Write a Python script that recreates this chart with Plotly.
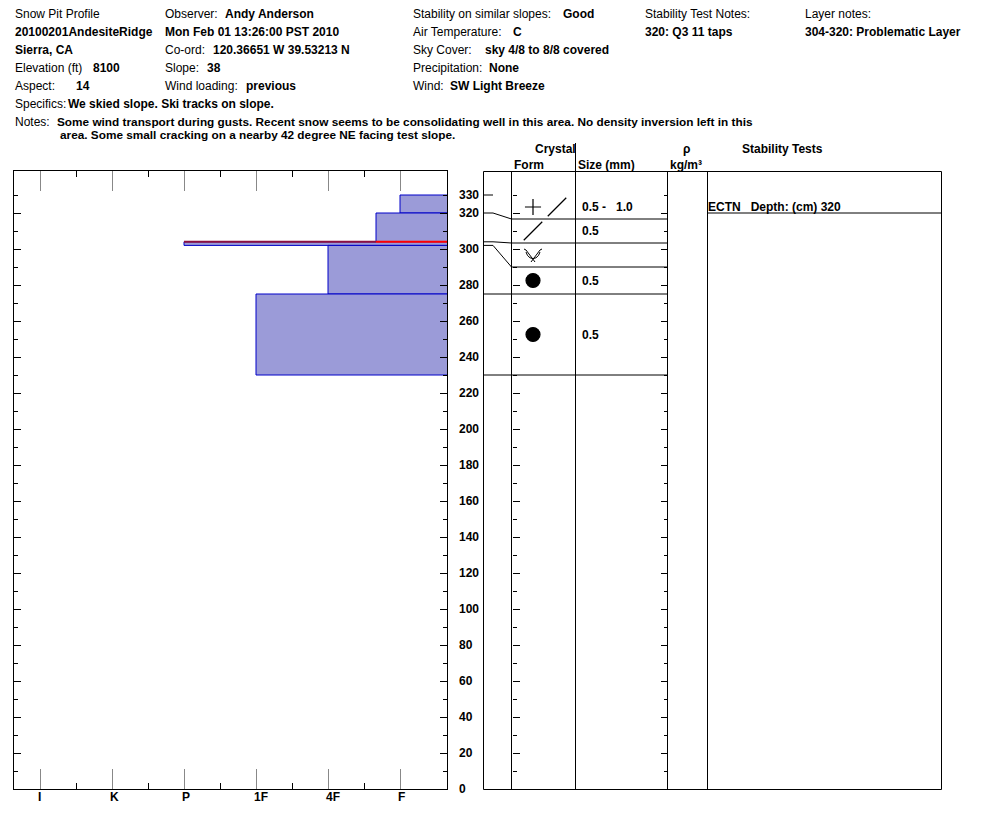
import plotly.graph_objects as go

# ---- pit header ----
header_labels = [
    # (x px, y px, text)
    (16, 14, "Snow Pit Profile"),
    (16, 68, "Elevation (ft)"),
    (16, 86, "Aspect:"),
    (166, 14, "Observer:"),
    (166, 50, "Co-ord:"),
    (166, 68, "Slope:"),
    (166, 86, "Wind loading:"),
    (414, 14, "Stability on similar slopes:"),
    (414, 32, "Air Temperature:"),
    (414, 50, "Sky Cover:"),
    (414, 68, "Precipitation:"),
    (414, 86, "Wind:"),
    (646, 14, "Stability Test Notes:"),
    (806, 14, "Layer notes:"),
    (16, 104, "Specifics:"),
    (16, 122, "Notes:"),
]
header_values = [
    (16, 32, "20100201AndesiteRidge"),
    (16, 50, "Sierra, CA"),
    (94, 68, "8100"),
    (77, 86, "14"),
    (226, 14, "Andy Anderson"),
    (166, 32, "Mon Feb 01 13:26:00 PST 2010"),
    (214, 50, "120.36651 W 39.53213 N"),
    (208, 68, "38"),
    (247, 86, "previous"),
    (564, 14, "Good"),
    (514, 32, "C"),
    (486, 50, "sky 4/8 to 8/8 covered"),
    (490, 68, "None"),
    (451, 86, "SW Light Breeze"),
    (646, 32, "320: Q3 11 taps"),
    (806, 32, "304-320: Problematic Layer"),
    (69, 104, "We skied slope. Ski tracks on slope."),
]
notes_lines = [
    (58, 122, "Some wind transport during gusts. Recent snow seems to be consolidating well in this area. No density inversion left in this"),
    (61, 135, "area. Some small cracking on a nearby 42 degree NE facing test slope."),
]

# ---- layers ----
hardness_names = ["F", "4F", "1F", "P", "K", "I"]
layer_top = [330, 320, 304, 302, 275]
layer_bottom = [320, 304, 302, 275, 230]
layer_hardness = ["F", "F+", "P", "4F", "1F"]
grain_form = [["PP", "DF"], ["DF"], ["SH"], ["RG"], ["RG"]]
grain_size = ["0.5 -   1.0", "0.5", "", "0.5", "0.5"]
problem_depth = 304

test_code = ["ECTN"]
test_depth = [320]

depth_ticks = list(range(0, 321, 20)) + [330]

W, H = 994, 826
PX_CM = 1.8            # pixels per cm on the depth axis
Y0 = 789               # pixel row of depth 0
TOP = 171
depth_max = (Y0 - TOP) / PX_CM
h_left = 1 + (400 - 14) / 72
h_right = 1 - (447 - 400) / 72


def X(p):
    return p / W


def Y(p):
    return 1 - p / H


def hard_val(s):
    v = hardness_names.index(s.rstrip("+-")) + 1
    if s.endswith("+"):
        v += 1 / 3
    elif s.endswith("-"):
        v -= 1 / 3
    return v


FONT = "Liberation Sans, Arial, sans-serif"
anns = []


def ann(x, y, text, bold=False, xanchor="left", xref="paper", yref="paper", size=12, xshift=0):
    anns.append(dict(
        x=x, y=y, xref=xref, yref=yref, text=f"<b>{text}</b>" if bold else text,
        showarrow=False, xanchor=xanchor, yanchor="middle", xshift=xshift,
        font=dict(family=FONT, size=size, color="black"), borderpad=0, borderwidth=0,
    ))


for x, y, t in header_labels:
    ann(X(x - 1), Y(y), t)
for x, y, t in header_values:
    ann(X(x - 1), Y(y), t, bold=True)
for x, y, t in notes_lines:
    ann(X(x - 1), Y(y), t, bold=True, size=11.8)

fig = go.Figure()

# hardness bars
hv = [hard_val(h) for h in layer_hardness]
fig.add_trace(go.Bar(
    orientation="h",
    y=[(a + b) / 2 for a, b in zip(layer_top, layer_bottom)],
    width=[a - b for a, b in zip(layer_top, layer_bottom)],
    x=hv, base=0,
    marker=dict(color="#9b9bd8", line=dict(color="#0000c8", width=1)),
    hoverinfo="skip", showlegend=False,
))

# problem layer line
i_p = layer_top.index(problem_depth)
fig.add_trace(go.Scatter(
    x=[hv[i_p], hv[i_p - 1]], y=[problem_depth] * 2, mode="lines",
    line=dict(color="#8c1040", width=2), hoverinfo="skip", showlegend=False))
fig.add_trace(go.Scatter(
    x=[hv[i_p - 1], 0], y=[problem_depth] * 2, mode="lines",
    line=dict(color="#ff0000", width=2), hoverinfo="skip", showlegend=False))

# keep the table's tick axes alive
for ya in ["y3", "y4"]:
    fig.add_trace(go.Scatter(x=[1], y=[-50], xaxis="x", yaxis=ya, mode="markers",
                             marker=dict(opacity=0), hoverinfo="skip", showlegend=False))

# hardness labels
for i, name in enumerate(hardness_names):
    ann(i + 1, Y(797), name, bold=True, xref="x", xshift=-2)

# depth labels
for d in depth_ticks:
    ann(X(459), d, str(d), bold=True, yref="y")

# ---- table ----
shapes = []


def line(x0, y0, x1, y1, yref="paper", color="black", width=1):
    shapes.append(dict(type="line", xref="paper", yref=yref, x0=X(x0), x1=X(x1),
                       y0=y0 if yref == "y" else Y(y0), y1=y1 if yref == "y" else Y(y1),
                       line=dict(color=color, width=width)))


shapes.append(dict(type="rect", xref="paper", yref="paper", x0=X(483.5), x1=X(941.5),
                   y0=Y(789.5), y1=Y(171.5), line=dict(color="black", width=1)))
for cx in [511.5, 667.5, 707.5]:
    line(cx, 171.5, cx, 789.5)
line(575.5, 143, 575.5, 789.5)

# displayed row boundaries (rows get a minimum height)
min_row = 24 / PX_CM
disp = [layer_top[0]]
for b in layer_bottom:
    disp.append(min(b, disp[-1] - min_row))
real = [layer_top[0]] + layer_bottom

line(483.5, real[0], 493, real[0], yref="y")
for r, d in zip(real[1:], disp[1:]):
    line(483.5, r, 493, r, yref="y")
    shapes.append(dict(type="line", xref="paper", yref="y", x0=X(493), x1=X(511.5),
                       y0=r, y1=d, line=dict(color="black", width=1)))
    line(511.5, d, 667.5, d, yref="y")

# crystal symbols
sym_style = {
    "PP": dict(symbol="cross-thin", size=11.5),
    "DF": dict(symbol="line-ne", size=18.5),
    "RG": dict(symbol="circle", size=14),
}
# surface hoar glyph, pixel offsets (y down)
sh_parts = [
    ([-9, -7, 2], [-6, -5, 7]),
    ([9, 7, -2], [-6, -5, 7]),
    ([-7, -5.5, -3, 0, 3, 5.5, 7], [-3, 0.5, 2.8, 3.6, 2.8, 0.5, -3]),
]
for i, forms in enumerate(grain_form):
    cy = (disp[i] + disp[i + 1]) / 2
    for j, f in enumerate(forms):
        cx = 533 + 24 * j
        if f == "SH":
            for dxs, dys in sh_parts:
                fig.add_trace(go.Scatter(
                    x=[cx + dx for dx in dxs], y=[cy - dy / PX_CM for dy in dys],
                    xaxis="x2", yaxis="y", mode="lines", line=dict(color="black", width=1),
                    hoverinfo="skip", showlegend=False))
        else:
            st = sym_style[f]
            fig.add_trace(go.Scatter(
                x=[cx], y=[cy], xaxis="x2", yaxis="y", mode="markers",
                marker=dict(symbol=st["symbol"], size=st["size"], color="black",
                            line=dict(color="black", width=1.2)),
                hoverinfo="skip", showlegend=False))
    if grain_size[i]:
        ann(X(582), cy, grain_size[i].replace(" ", "\u00a0"), bold=True, yref="y")

# stability tests
for code, d in zip(test_code, test_depth):
    line(707.5, d, 941.5, d, yref="y")
    ann(X(708), d + 3.6, f"{code}\u00a0\u00a0\u00a0Depth:\u00a0(cm)\u00a0{d}", bold=True, yref="y")

# column headers
ann(X(555), Y(149), "Crystal", bold=True, xanchor="center")
ann(X(529), Y(165), "Form", bold=True, xanchor="center")
ann(X(606), Y(165), "Size (mm)", bold=True, xanchor="center")
ann(X(686), Y(149), "ρ", bold=True, xanchor="center")
ann(X(686), Y(165), "kg/m³", bold=True, xanchor="center")
ann(X(782), Y(149), "Stability Tests", bold=True, xanchor="center")

depth_base = dict(range=[0, depth_max], showgrid=False, zeroline=False, showticklabels=False,
                  tickmode="array", tickvals=list(range(0, 321, 20)), ticklen=7,
                  tickcolor="black", tickwidth=1)


def depth_minor(ticks):
    return dict(ticks=ticks, tickmode="array", tickvals=list(range(10, 331, 20)),
                ticklen=4, tickcolor="black", tickwidth=1)


fig.update_layout(
    width=W, height=H, margin=dict(l=0, r=0, t=0, b=0, pad=0),
    paper_bgcolor="white", plot_bgcolor="rgba(0,0,0,0)", showlegend=False,
    barmode="overlay",
    xaxis=dict(domain=[X(14), X(447)], range=[h_left, h_right], anchor="y",
               showline=True, linecolor="black", linewidth=1, mirror="ticks",
               showgrid=False, zeroline=False, showticklabels=False,
               ticks="inside", tickmode="array", tickvals=list(range(1, 7)),
               ticklen=20, tickcolor="#888888", tickwidth=1,
               minor=dict(ticks="inside", tickmode="array",
                          tickvals=[i + 0.5 for i in range(1, 6)],
                          ticklen=6, tickcolor="black", tickwidth=1)),
    yaxis=dict(domain=[Y(789), Y(171)], anchor="x", showline=True, linecolor="black",
               linewidth=1, mirror="ticks", ticks="inside", minor=depth_minor("inside"),
               **depth_base),
    xaxis2=dict(domain=[0, 1], range=[0, W], anchor="y", visible=False),
    yaxis3=dict(overlaying="y", anchor="free", position=X(511.5), side="right",
                ticks="outside", showline=False, minor=depth_minor("outside"), **depth_base),
    yaxis4=dict(overlaying="y", anchor="free", position=X(667.5), side="left",
                ticks="outside", showline=False, minor=depth_minor("outside"), **depth_base),
    annotations=anns,
    shapes=shapes,
)

fig.write_html("out.html", config={"displayModeBar": False},
               post_script="document.body.style.margin='0';")
